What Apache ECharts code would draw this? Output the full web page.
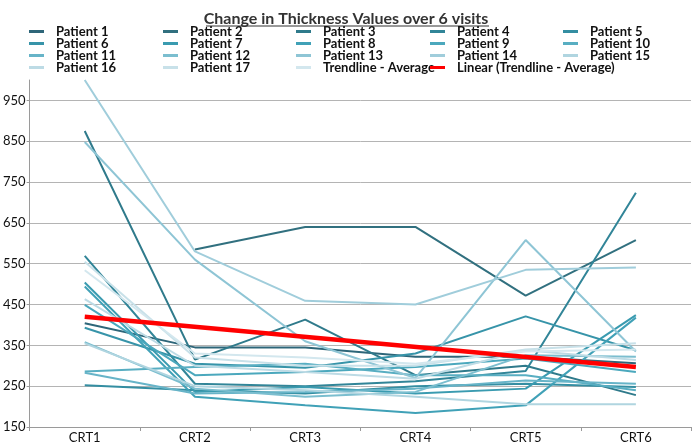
<!DOCTYPE html>
<html>
<head>
<meta charset="utf-8">
<script src="https://cdn.jsdelivr.net/npm/echarts@6/dist/echarts.min.js"></script>
<style>
html,body{margin:0;padding:0;background:#fff;}
#c{width:692px;height:444px;}
</style>
</head>
<body>
<div id="c"></div>
<script>
var categories = ['CRT1', 'CRT2', 'CRT3', 'CRT4', 'CRT5', 'CRT6'];
var yTicks = [150, 250, 350, 450, 550, 650, 750, 850, 950];

var patient1  = [404, 345, 345, 322, 322, 306];
var patient2  = [null, 585, 640, 640, 472, 608];
var patient3  = [875, 315, 413, 277, 300, 228];
var patient4  = [569, 256, 250, 262, 287, 724];
var patient5  = [252, 240, 232, 250, 256, 248];
var patient6  = [393, 305, 295, 330, 421, 338];
var patient7  = [504, 236, 248, 232, 244, 424];
var patient8  = [494, 224, 203, 184, 203, 418];
var patient9  = [449, 277, 285, 297, 318, 285];
var patient10 = [286, 297, 305, 277, 277, 240];
var patient11 = [283, 232, 236, 244, 264, 256];
var patient12 = [358, 244, 224, 236, 326, 322];
var patient13 = [848, 560, 360, 270, 608, 335];
var patient14 = [1000, 580, 459, 450, 535, 541];
var patient15 = [355, 250, 240, 224, 206, 206];
var patient16 = [463, 300, 285, 268, 338, 314];
var patient17 = [555, 320, 300, 300, 340, 355];
var trendAverage = [534, 330, 320, 305, 335, 340];
// linear trendline: only its two end values
var linearTrend = [420, null, null, null, null, 297];

var seriesNames = ['Patient 1','Patient 2','Patient 3','Patient 4','Patient 5','Patient 6','Patient 7','Patient 8','Patient 9','Patient 10','Patient 11','Patient 12','Patient 13','Patient 14','Patient 15','Patient 16','Patient 17','Trendline - Average'];
var seriesData = [patient1,patient2,patient3,patient4,patient5,patient6,patient7,patient8,patient9,patient10,patient11,patient12,patient13,patient14,patient15,patient16,patient17,trendAverage];

var palette = ['#2e6679','#31707f','#2f7a8b','#318598','#348ea2','#3794a9','#3a9bb0','#40a1b7','#4ba8bd','#58aec2','#67b4c8','#7bbecf','#8ec5d5','#a0cddb','#b0d5e0','#bddbe5','#c8e1e9','#d3e7ee'];

var FONT = 'Lato';
var series = [];
for (var i = 0; i < seriesData.length; i++) {
  series.push({
    name: seriesNames[i], type: 'line', data: seriesData[i],
    symbol: 'none', color: palette[i],
    lineStyle: {width: 2, color: palette[i]},
    itemStyle: {color: palette[i]},
    z: 2
  });
}
series.push({
  name: 'Linear (Trendline - Average)', type: 'line', data: linearTrend,
  connectNulls: true, symbol: 'none', color: '#ff0000',
  lineStyle: {width: 4.5, color: '#ff0000'}, itemStyle: {color: '#ff0000'}, z: 5
});

var columns = [
  ['Patient 1','Patient 6','Patient 11','Patient 16'],
  ['Patient 2','Patient 7','Patient 12','Patient 17'],
  ['Patient 3','Patient 8','Patient 13','Trendline - Average'],
  ['Patient 4','Patient 9','Patient 14','Linear (Trendline - Average)'],
  ['Patient 5','Patient 10','Patient 15']
];
var colLeft = [29, 163, 296, 430, 563];
var legends = columns.map(function (col, k) {
  return {
    orient: 'vertical', left: colLeft[k], top: 25, padding: 0,
    itemGap: -1, itemWidth: 15, itemHeight: 3, icon: 'rect',
    selectedMode: false,
    textStyle: {fontFamily: FONT, fontSize: 13, fontWeight: 'bold', color: '#111', lineHeight: 12, height: 12, padding: [0,0,0,7]},
    data: col
  };
});

var chart = echarts.init(document.getElementById('c'), null, {renderer: 'canvas'});
chart.setOption({
  animation: false,
  backgroundColor: '#ffffff',
  title: {
    text: 'Change in Thickness Values over 6 visits', left: 'center', top: 6,
    textStyle: {fontFamily: FONT, fontSize: 16, fontWeight: 'bold', color: '#333'}
  },
  graphic: [{
    type: 'line', shape: {x1: 206, y1: 26, x2: 489, y2: 26},
    style: {stroke: '#333', lineWidth: 1}
  }],
  legend: legends,
  grid: {left: 28, right: 1, top: 80, bottom: 17, containLabel: false},
  xAxis: {
    type: 'category', data: categories, boundaryGap: true,
    axisLine: {lineStyle: {color: '#9a9a9a', width: 1}},
    axisTick: {show: true, length: 4, lineStyle: {color: '#9a9a9a'}},
    axisLabel: {fontFamily: FONT, fontSize: 13, color: '#111', margin: 4}
  },
  yAxis: {
    type: 'value', min: 150, max: 1000, interval: 100,
    axisLine: {show: true, lineStyle: {color: '#9a9a9a', width: 1}},
    axisTick: {show: true, length: 3, lineStyle: {color: '#9a9a9a'}},
    axisLabel: {fontFamily: FONT, fontSize: 13, color: '#111', margin: 4, showMaxLabel: false,
      formatter: function (v) { return yTicks.indexOf(v) >= 0 ? String(v) : ''; }},
    splitLine: {show: true, showMaxLine: false, lineStyle: {color: '#b4b4b4', width: 1}}
  },
  series: series
});
</script>
</body>
</html>
